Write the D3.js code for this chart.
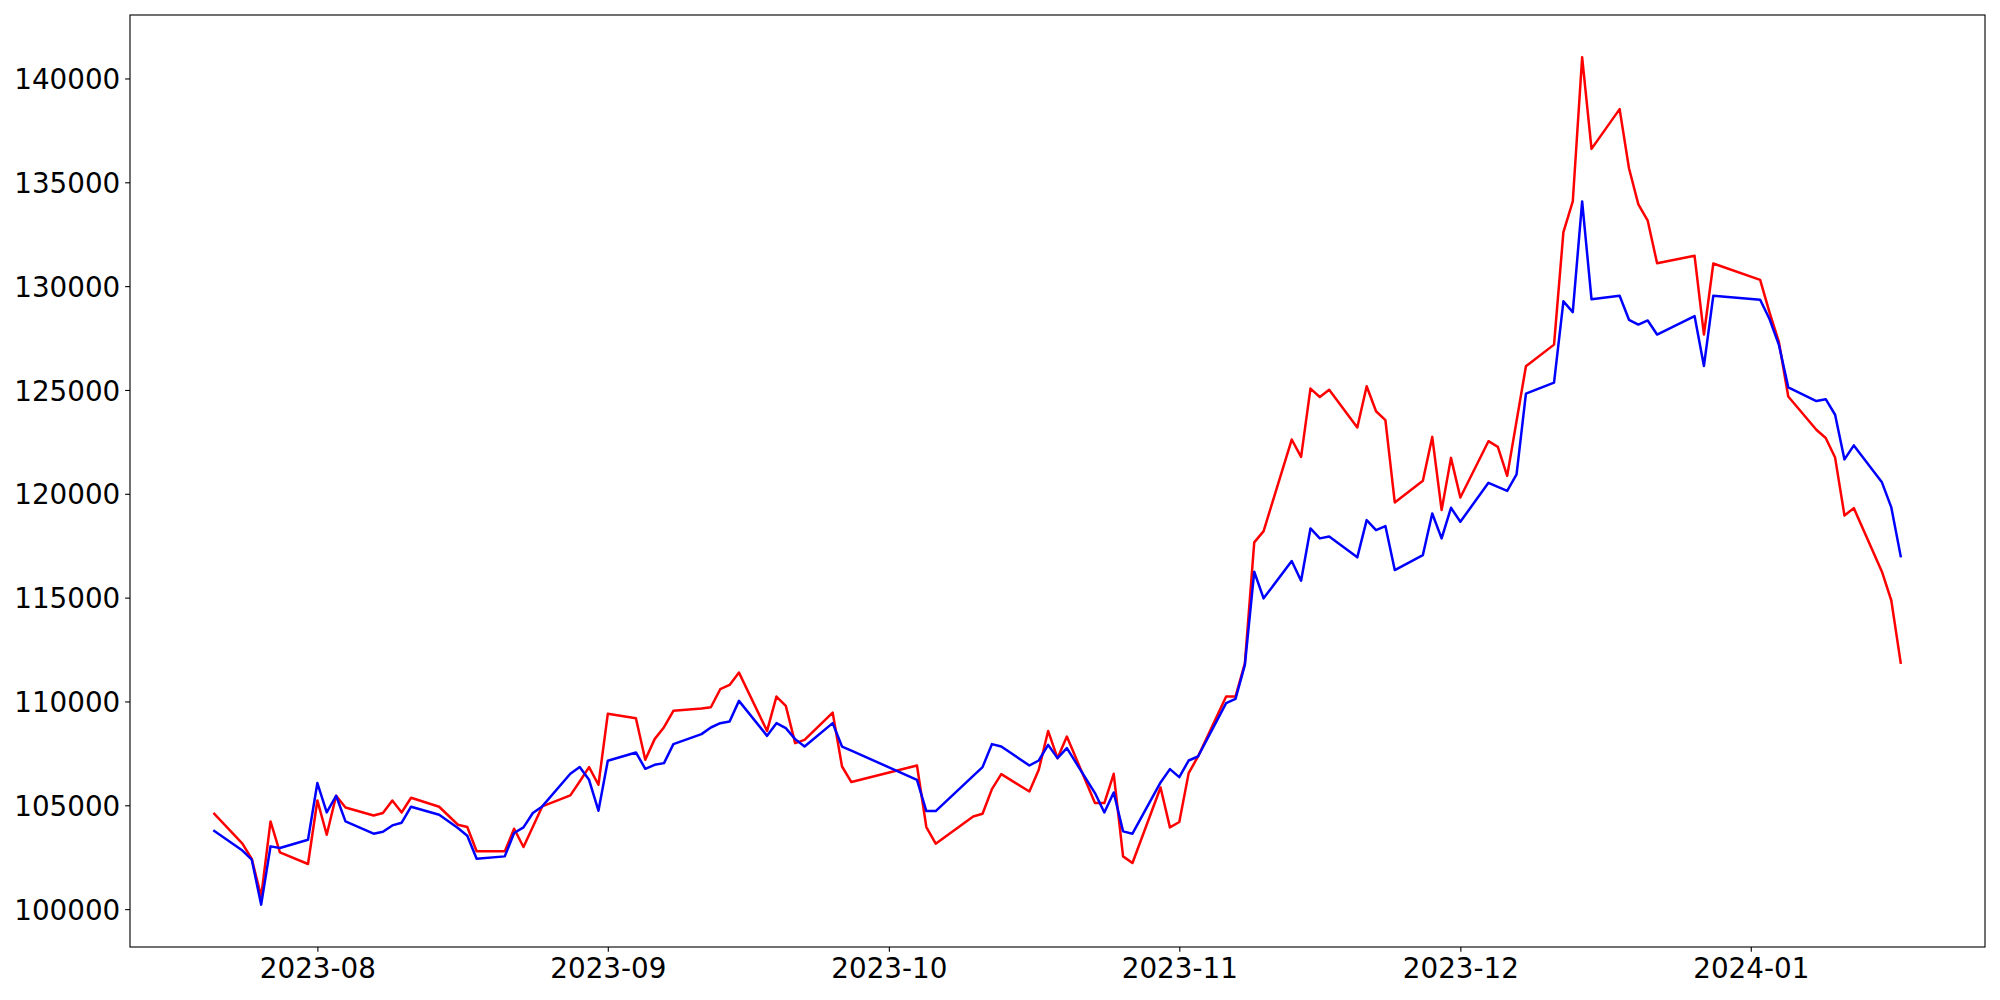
<!DOCTYPE html>
<html>
<head>
<meta charset="utf-8">
<script src="https://cdn.jsdelivr.net/npm/d3@7"></script>
<style>
    body { margin: 0; background: #fff; }
    svg { display: block; }
    .tick text { font-family: "DejaVu Sans", sans-serif; font-size: 27.78px; fill: #000; }
</style>
</head>
<body>
<svg id="chart" width="2000" height="1000"></svg>
<script>
// trading days shown on the chart
var dates = [
    "2023-07-21","2023-07-24","2023-07-25","2023-07-26","2023-07-27","2023-07-28","2023-07-31",
    "2023-08-01","2023-08-02","2023-08-03","2023-08-04","2023-08-07","2023-08-08","2023-08-09","2023-08-10","2023-08-11",
    "2023-08-14","2023-08-16","2023-08-17","2023-08-18","2023-08-21","2023-08-22","2023-08-23","2023-08-24","2023-08-25",
    "2023-08-28","2023-08-29","2023-08-30","2023-08-31","2023-09-01","2023-09-04","2023-09-05","2023-09-06","2023-09-07","2023-09-08",
    "2023-09-11","2023-09-12","2023-09-13","2023-09-14","2023-09-15","2023-09-18","2023-09-19","2023-09-20","2023-09-21","2023-09-22",
    "2023-09-25","2023-09-26","2023-09-27","2023-10-04","2023-10-05","2023-10-06","2023-10-10","2023-10-11","2023-10-12","2023-10-13",
    "2023-10-16","2023-10-17","2023-10-18","2023-10-19","2023-10-20","2023-10-23","2023-10-24","2023-10-25","2023-10-26","2023-10-27",
    "2023-10-30","2023-10-31","2023-11-01","2023-11-02","2023-11-03","2023-11-06","2023-11-07","2023-11-08","2023-11-09","2023-11-10",
    "2023-11-13","2023-11-14","2023-11-15","2023-11-16","2023-11-17","2023-11-20","2023-11-21","2023-11-22","2023-11-23","2023-11-24",
    "2023-11-27","2023-11-28","2023-11-29","2023-11-30","2023-12-01","2023-12-04","2023-12-05","2023-12-06","2023-12-07","2023-12-08",
    "2023-12-11","2023-12-12","2023-12-13","2023-12-14","2023-12-15","2023-12-18","2023-12-19","2023-12-20","2023-12-21","2023-12-22",
    "2023-12-26","2023-12-27","2023-12-28","2024-01-02","2024-01-03","2024-01-04","2024-01-05","2024-01-08","2024-01-09","2024-01-10",
    "2024-01-11","2024-01-12","2024-01-15","2024-01-16","2024-01-17"
];

// red series
var redValues = [
    104593,103150,102414,100600,104223,102733,102173,
    105233,103583,105459,104896,104512,104627,105233,104656,105363,
    104930,104064,103953,102790,102781,103872,102990,103968,104946,
    105475,106148,106839,105988,109403,109195,107190,108186,108763,109547,
    109658,109723,110589,110797,111389,108580,110235,109787,107993,108152,
    109466,106868,106118,106916,103953,103150,104463,104593,105781,106502,
    105666,106709,108580,107270,108311,105108,105108,106517,102540,102222,
    105859,103936,104194,106549,107350,110235,110235,111841,117660,118204,
    122614,121778,125067,124663,125010,123191,125178,123976,123543,119584,
    120624,122740,119214,121730,119824,122533,122258,120863,123509,126140,
    127183,132599,134076,141016,136608,138524,135677,133936,133152,131103,
    131459,127669,131088,130304,128736,127313,124683,123081,122687,121744,
    118955,119310,116247,114862,111870
];

// blue series
var blueValues = [
    103760,102820,102381,100216,103021,102943,103343,
    106070,104656,105459,104223,103631,103727,104031,104160,104930,
    104545,103904,103535,102429,102540,103664,103936,104627,104946,
    106517,106839,106228,104738,107142,107543,106757,106950,107031,107945,
    108426,108746,108955,109035,110028,108344,108955,108715,108186,107830,
    108955,107830,107630,106228,104722,104722,106417,106839,107945,107830,
    106916,107157,107910,107270,107751,105589,104656,105618,103743,103631,
    106099,106741,106356,107157,107350,109917,110124,111759,116247,114965,
    116760,115814,118333,117853,117946,116939,118733,118252,118444,116328,
    117050,119054,117853,119325,118652,120527,120335,120142,120930,124826,
    125355,129267,128751,134076,129363,129540,128380,128149,128346,127669,
    128558,126158,129540,129342,128419,127174,125125,124466,124557,123807,
    121657,122331,120551,119344,116997
];

var yTicks = [100000,105000,110000,115000,120000,125000,130000,135000,140000];
var xTickLabels = ["2023-08","2023-09","2023-10","2023-11","2023-12","2024-01"];

var margin = {left: 130, right: 15, top: 15, bottom: 53};
var WIDTH = 2000 - margin.left - margin.right;
var HEIGHT = 1000 - margin.top - margin.bottom;

var parseDate = d3.utcParse("%Y-%m-%d");
var parseMonth = d3.utcParse("%Y-%m");
var days = dates.map(parseDate);

var svg = d3.select("#chart");
var g = svg.append("g")
    .attr("transform", "translate(" + margin.left + "," + margin.top + ")");

// 5% padding on both scales, like matplotlib autoscale
var xExt = d3.extent(days);
var xPad = (xExt[1] - xExt[0]) * 0.05;
var xScale = d3.scaleUtc()
    .domain([new Date(+xExt[0] - xPad), new Date(+xExt[1] + xPad)])
    .range([0, WIDTH]);

var allValues = redValues.concat(blueValues);
var yExt = d3.extent(allValues);
var yPad = (yExt[1] - yExt[0]) * 0.05;
var yScale = d3.scaleLinear()
    .domain([yExt[0] - yPad, yExt[1] + yPad])
    .range([HEIGHT, 0]);

g.append("clipPath").attr("id", "clip")
    .append("rect").attr("width", WIDTH).attr("height", HEIGHT);

var line = d3.line()
    .x(function(d) { return xScale(d[0]); })
    .y(function(d) { return yScale(d[1]); });

function drawSeries(values, color) {
    g.append("path")
        .datum(days.map(function(d, i) { return [d, values[i]]; }))
        .attr("clip-path", "url(#clip)")
        .attr("fill", "none")
        .attr("stroke", color)
        .attr("stroke-width", 2.5)
        .attr("stroke-linejoin", "round")
        .attr("stroke-linecap", "square")
        .attr("d", line);
}

drawSeries(redValues, "#ff0000");
drawSeries(blueValues, "#0000ff");

// axes
var xAxis = d3.axisBottom(xScale)
    .tickValues(xTickLabels.map(parseMonth))
    .tickFormat(d3.utcFormat("%Y-%m"))
    .tickSize(4.86)
    .tickPadding(4.86)
    .tickSizeOuter(0);

var yAxis = d3.axisLeft(yScale)
    .tickValues(yTicks)
    .tickFormat(d3.format("d"))
    .tickSize(4.86)
    .tickPadding(4.86)
    .tickSizeOuter(0);

var xg = g.append("g")
    .attr("transform", "translate(0," + HEIGHT + ")")
    .call(xAxis);
xg.select(".domain").remove();
xg.selectAll(".tick line").attr("stroke", "#000").attr("stroke-width", 1.11);
xg.selectAll(".tick text").attr("dy", "0.76em");

var yg = g.append("g").call(yAxis);
yg.select(".domain").remove();
yg.selectAll(".tick line").attr("stroke", "#000").attr("stroke-width", 1.11);
yg.selectAll(".tick text").attr("dy", "0.365em");

// frame
g.append("rect")
    .attr("width", WIDTH)
    .attr("height", HEIGHT)
    .attr("fill", "none")
    .attr("stroke", "#000")
    .attr("stroke-width", 1.11);
</script>
</body>
</html>
